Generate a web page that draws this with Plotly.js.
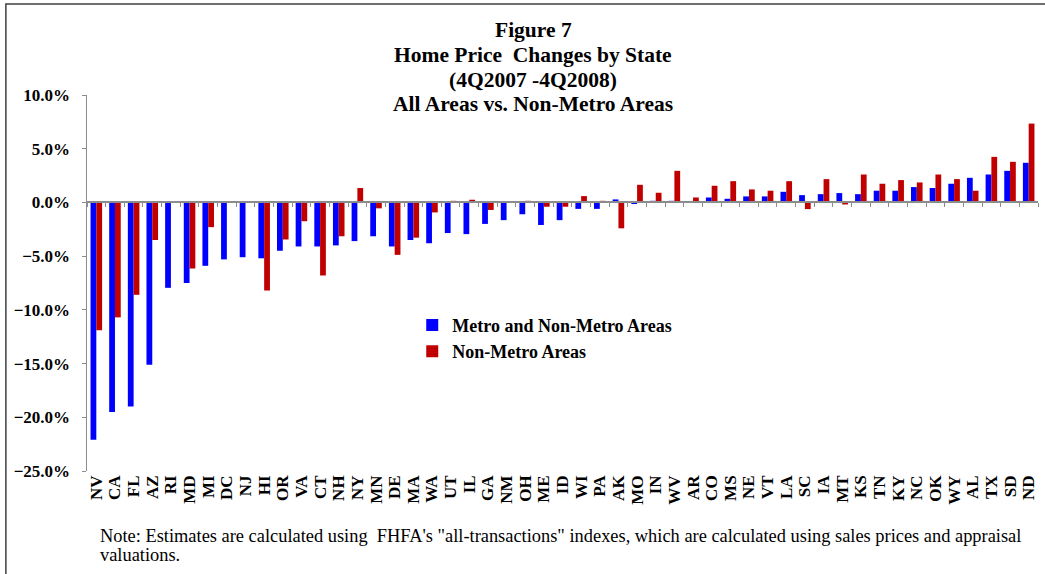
<!DOCTYPE html>
<html>
<head>
<meta charset="utf-8">
<script src="https://cdn.plot.ly/plotly-3.0.1.min.js"></script>
<style>html,body{margin:0;padding:0;background:#fff;}</style>
</head>
<body>
<div id="chart" style="width:1045px;height:574px;"></div>
<script>
const states = ["NV","CA","FL","AZ","RI","MD","MI","DC","NJ","HI","OR","VA","CT","NH","NY","MN","DE","MA","WA","UT","IL","GA","NM","OH","ME","ID","WI","PA","AK","MO","IN","WV","AR","CO","MS","NE","VT","LA","SC","IA","MT","KS","TN","KY","NC","OK","WY","AL","TX","SD","ND"];

const allAreas = [-22.1,-19.5,-19.0,-15.1,-7.95,-7.5,-5.9,-5.3,-5.1,-5.2,-4.5,-4.1,-4.1,-4.0,-3.6,-3.15,-4.1,-3.5,-3.8,-2.85,-2.95,-2.0,-1.65,-1.1,-2.1,-1.65,-0.6,-0.6,0.28,-0.15,0.15,0.15,0.05,0.46,0.34,0.56,0.56,0.99,0.68,0.77,0.87,0.77,1.09,1.09,1.43,1.34,1.74,2.29,2.6,2.94,3.69];

const nonMetro = [-11.9,-10.7,-8.6,-3.5,null,-6.15,-2.3,null,null,-8.2,-3.45,-1.75,-6.8,-3.15,1.34,-0.55,-4.88,-3.28,-0.93,0.15,0.25,-0.7,0,0.15,-0.4,-0.4,0.59,0.15,-2.41,1.64,0.9,2.94,0.46,1.55,1.98,1.21,1.09,1.98,-0.62,2.17,-0.19,2.6,1.74,2.08,1.86,2.6,2.17,1.09,4.24,3.78,7.34];

const seriesNames = ["Metro and Non-Metro Areas", "Non-Metro Areas"];
const titleLines = ["Figure 7", "Home Price&nbsp; Changes by State", "(4Q2007 -4Q2008)", "All Areas vs. Non-Metro Areas"];
const noteLines = ["Note: Estimates are calculated using  FHFA's \"all-transactions\" indexes, which are calculated using sales prices and appraisal", "valuations."];

const yMin = -25, yMax = 10;
const serif = "Liberation Serif, Times New Roman, serif";
const plotH = 574 - 95 - 103;

const traces = [
  {type:"bar", x:states, y:allAreas, name:seriesNames[0], marker:{color:"#0000FF", line:{width:0}}, xaxis:"x", yaxis:"y"},
  {type:"bar", x:states, y:nonMetro, name:seriesNames[1], marker:{color:"#C00000", line:{width:0}}, xaxis:"x", yaxis:"y"},
  {type:"scatter", mode:"markers", x:states, y:states.map(()=>0), marker:{opacity:0, size:1}, showlegend:false, hoverinfo:"skip", xaxis:"x2", yaxis:"y"}
];

const zeroPos = (0 - yMin) / (yMax - yMin);
const catRange = [-0.5, states.length - 0.5];

// title lines: pixel centres from top of page
const titleY = [30, 55.5, 80, 104.5];
const noteY = [536, 555];
const pyToPaper = py => (574 - 103 - py) / plotH;

const annotations = titleLines.map((t, i) => ({
  xref:"paper", yref:"paper", x:0.4695, y:pyToPaper(titleY[i]), xanchor:"center", yanchor:"middle", showarrow:false,
  text:t, font:{family:serif, size:21.5, color:"#000", weight:"bold"}
})).concat(noteLines.map((t, i) => ({
  xref:"paper", yref:"paper", x:0.0116, y:pyToPaper(noteY[i]), xanchor:"left", yanchor:"middle", showarrow:false,
  text:t, font:{family:serif, size:18.4, color:"#000"}
})));

const layout = {
  width:1045, height:574,
  paper_bgcolor:"#fff", plot_bgcolor:"rgba(0,0,0,0)",
  margin:{l:87, r:7, t:95, b:103},
  barmode:"group", bargap:0.38, bargroupgap:0,
  showlegend:true,
  legend:{x:0.342, y:0.437, xanchor:"left", yanchor:"top", bgcolor:"rgba(0,0,0,0)",
          font:{family:serif, size:18, color:"#000", weight:"bold"}, itemwidth:30, tracegroupgap:0},
  xaxis:{type:"category", range:catRange, showline:false, ticks:"", tickangle:-90, showgrid:false, zeroline:false,
         tickmode:"array", tickvals:states, ticktext:states,
         tickfont:{family:serif, size:17, color:"#000", weight:"bold"}, fixedrange:true},
  xaxis2:{type:"category", overlaying:"x", matches:"x", range:catRange, anchor:"free", position:zeroPos, side:"bottom",
          showline:true, linecolor:"#8c8c8c", linewidth:2, ticks:"outside", tickson:"boundaries",
          tickmode:"array", tickvals:states,
          ticklen:4, tickcolor:"#8c8c8c", tickwidth:1, showticklabels:false, showgrid:false, zeroline:false},
  yaxis:{range:[yMin, yMax], dtick:5, tick0:0, tickformat:".1f", ticksuffix:"%", showgrid:false, zeroline:false,
         showline:true, linecolor:"#8c8c8c", linewidth:1.5, ticks:"outside", ticklen:4, tickcolor:"#8c8c8c",
         ticklabelstandoff:8,
         tickfont:{family:serif, size:17, color:"#000", weight:"bold"}},
  annotations:annotations,
  shapes:[
    {type:"rect", xref:"paper", yref:"paper", x0:-0.0853, x1:1.05, y0:-0.35, y1:1.242,
     line:{color:"#404040", width:1.5}, fillcolor:"rgba(0,0,0,0)", layer:"below"}
  ]
};

Plotly.newPlot("chart", traces, layout, {displayModeBar:false, staticPlot:true});
</script>
</body>
</html>
